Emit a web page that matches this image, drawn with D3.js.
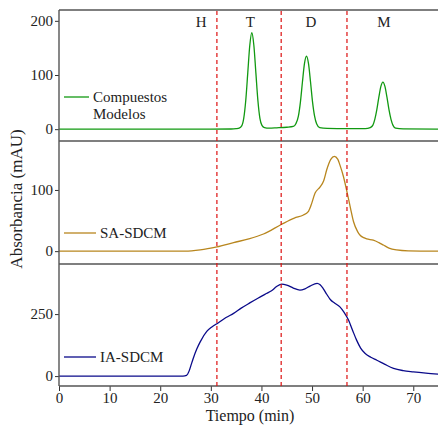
<!DOCTYPE html>
<html>
<head>
<meta charset="utf-8">
<script src="https://cdn.jsdelivr.net/npm/d3@7"></script>
<style>
  body { margin: 0; background: #fff; }
</style>
</head>
<body>
<div id="ChartDiv"></div>
<script>
// tiempo (min), absorbancia (mAU)
const modelos = [
    [0, 0], [30, 0], [34, 0.3], [35, 1], [35.6, 2], [36.1, 6], [36.5, 20], [36.9, 53],
    [37.3, 104], [37.7, 155], [38.1, 178], [38.5, 155], [38.9, 104], [39.3, 53],
    [39.7, 20], [40.1, 7], [40.6, 3], [41.5, 2], [43, 2.5], [45, 3.5], [46.3, 5],
    [46.8, 10], [47.3, 24], [47.7, 50], [48.1, 87], [48.5, 121], [48.9, 135],
    [49.3, 121], [49.7, 87], [50.1, 50], [50.5, 24], [50.9, 10], [51.5, 3], [53, 1.5],
    [57, 1], [60.5, 1], [61.5, 3], [62, 7], [62.4, 18], [62.8, 36], [63.2, 59],
    [63.6, 79], [64.0, 87], [64.4, 79], [64.8, 59], [65.2, 36], [65.6, 18], [66, 7],
    [66.5, 2], [68, 0.5], [75, 0]
];
const saSdcm = [
    [0, 0], [24.9, 0], [27.9, 2], [31.2, 7], [34.5, 14], [37.5, 20], [40.4, 28],
    [44, 44], [46.5, 54], [48.3, 59], [49.2, 64], [49.8, 75], [50.6, 95], [51.6, 105],
    [52.3, 115], [52.9, 133], [53.7, 150], [54.4, 155], [55.1, 150], [55.5, 141],
    [56.2, 122], [56.9, 97], [57.6, 70], [58.2, 48], [59, 32], [59.5, 26], [60.2, 22],
    [60.8, 20], [62.1, 18], [63.2, 14], [64.1, 10], [65.2, 5], [66.7, 2], [69, 0.5],
    [75, 0]
];
const iaSdcm = [
    [0, 0], [24.5, 0], [25.2, 3], [25.7, 20], [26.1, 45], [26.5, 70], [27.2, 108],
    [27.9, 138], [29.2, 180], [30.2, 198], [31.5, 215], [33, 236], [34.5, 253],
    [36, 274], [37.7, 295], [39.3, 314], [41, 333], [42, 344], [43, 361], [44, 371],
    [45, 367], [46.3, 355], [47.6, 347], [48.6, 352], [49.6, 363], [51, 374],
    [51.6, 368], [52.2, 353], [52.9, 330], [53.6, 309], [54.5, 294], [55.5, 279],
    [56.3, 258], [57.2, 226], [58, 185], [58.8, 145], [59.6, 113], [60.5, 91],
    [61.6, 76], [62.8, 64], [64.4, 47], [66.1, 31], [68, 22], [70, 17], [72.5, 12],
    [75, 8]
];
const cortes = [31.2, 43.9, 56.9];
const regiones = [["H", 28.1], ["T", 37.8], ["D", 49.8], ["M", 64.2]];
const xTicks = [0, 10, 20, 30, 40, 50, 60, 70];

const panels = [
    {name: ["Compuestos", "Modelos"], data: modelos, color: "#119911",
     domain: [-20, 220], range: [140, 10], ticks: [0, 100, 200], legY: 97, legLen: 25},
    {name: ["SA-SDCM"], data: saSdcm, color: "#b8861e",
     domain: [-21, 180], range: [264, 141], ticks: [0, 100], legY: 233, legLen: 32},
    {name: ["IA-SDCM"], data: iaSdcm, color: "#0a0a8a",
     domain: [-40, 452], range: [386, 264], ticks: [0, 250], legY: 357, legLen: 32}
];

const FONT = "'Liberation Serif', 'Times New Roman', Tinos, 'DejaVu Serif', serif";
const width = 438, height = 425;
const left = 59;

const svg = d3.select("#ChartDiv").append("svg")
    .attr("width", width)
    .attr("height", height)
    .attr("font-family", FONT);

const x = d3.scaleLinear().domain([0, 75]).range([left, left + 75 * 5.061]);

panels.forEach(function(p) {
    const y = d3.scaleLinear().domain(p.domain).range(p.range);

    const line = d3.line()
        .x(d => x(d[0]))
        .y(d => y(d[1]))
        .curve(d3.curveMonotoneX);

    svg.append("path")
        .datum(p.data)
        .attr("fill", "none")
        .attr("stroke", p.color)
        .attr("stroke-width", 1.3)
        .attr("d", line);

    const yAxis = svg.append("g")
        .attr("transform", `translate(${left},0)`)
        .call(d3.axisLeft(y).tickValues(p.ticks).tickSize(4).tickPadding(2));
    yAxis.attr("font-family", FONT).attr("font-size", 15);
    yAxis.select(".domain").remove();
    yAxis.selectAll("text").attr("fill", "#222");
    yAxis.selectAll("line").attr("stroke", "#333");

    // panel top border
    svg.append("line")
        .attr("x1", left).attr("x2", width)
        .attr("y1", p.range[1]).attr("y2", p.range[1])
        .attr("stroke", "#555").attr("stroke-width", 1.4);

    // legend
    svg.append("line")
        .attr("x1", 64).attr("x2", 64 + p.legLen)
        .attr("y1", p.legY).attr("y2", p.legY)
        .attr("stroke", p.color).attr("stroke-width", 1.3);
    p.name.forEach(function(t, i) {
        svg.append("text")
            .attr("x", 64 + p.legLen + 4)
            .attr("y", p.legY + 5 + i * 17)
            .attr("font-size", 15)
            .attr("fill", "#222")
            .text(t);
    });
});

// left axis line
svg.append("line")
    .attr("x1", left).attr("x2", left)
    .attr("y1", 10).attr("y2", 386)
    .attr("stroke", "#555").attr("stroke-width", 1.4);

// bottom axis
const xAxis = svg.append("g")
    .attr("transform", "translate(0,386)")
    .call(d3.axisBottom(x).tickValues(xTicks).tickSize(5).tickPadding(1));
xAxis.attr("font-family", FONT).attr("font-size", 15);
xAxis.select(".domain").remove();
xAxis.selectAll("text").attr("fill", "#222");
xAxis.selectAll("line").attr("stroke", "#333");
svg.append("line")
    .attr("x1", left).attr("x2", width)
    .attr("y1", 386).attr("y2", 386)
    .attr("stroke", "#555").attr("stroke-width", 1.4);

// fraction cuts
svg.selectAll(".corte")
    .data(cortes)
    .enter().append("line")
    .attr("class", "corte")
    .attr("x1", d => x(d)).attr("x2", d => x(d))
    .attr("y1", 11).attr("y2", 386)
    .attr("stroke", "#dd1111")
    .attr("stroke-width", 1.2)
    .attr("stroke-dasharray", "4,3");

svg.selectAll(".region")
    .data(regiones)
    .enter().append("text")
    .attr("class", "region")
    .attr("x", d => x(d[1]))
    .attr("y", 27)
    .attr("text-anchor", "middle")
    .attr("font-size", 15)
    .attr("fill", "#222")
    .text(d => d[0]);

// axis titles
svg.append("text")
    .attr("transform", "translate(22,199) rotate(-90)")
    .attr("text-anchor", "middle")
    .attr("font-size", 17)
    .attr("fill", "#222")
    .text("Absorbancia (mAU)");

svg.append("text")
    .attr("x", 250)
    .attr("y", 421)
    .attr("text-anchor", "middle")
    .attr("font-size", 16)
    .attr("fill", "#222")
    .text("Tiempo (min)");
</script>
</body>
</html>
